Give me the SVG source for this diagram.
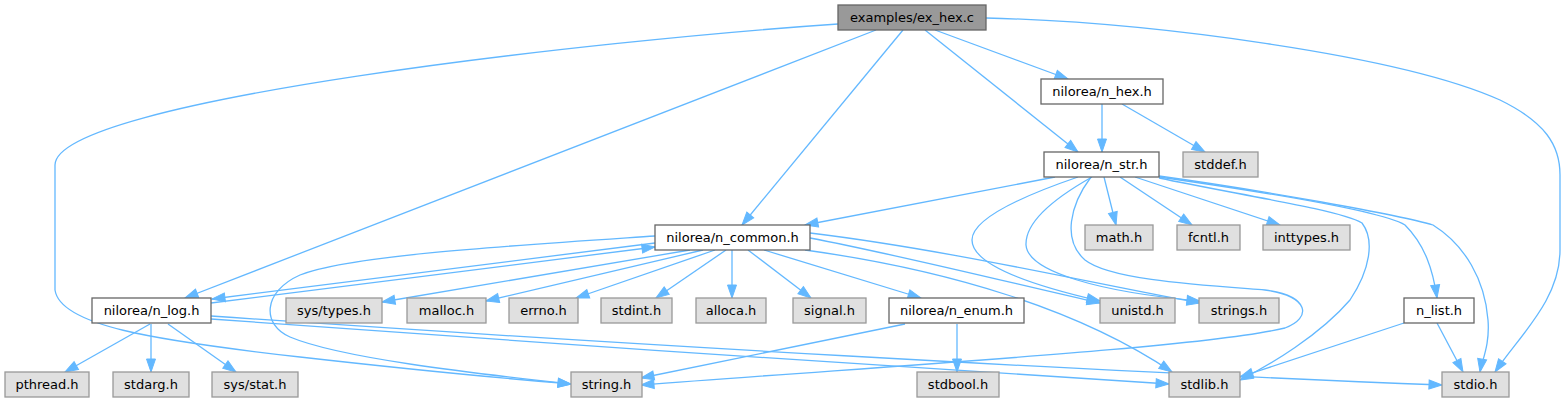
<svg xmlns="http://www.w3.org/2000/svg" width="1567" height="403" viewBox="0 0 1567 403">
<style>
.e{fill:none;stroke:#63b8ff;stroke-width:1.3;marker-end:url(#a)}
.n rect{fill:#ffffff;stroke:#666666;stroke-width:1.3}
.g rect{fill:#e0e0e0;stroke:#999999;stroke-width:1.3}
.m rect{fill:#999999;stroke:#666666;stroke-width:1.3}
text{font-family:"DejaVu Sans","Liberation Sans",sans-serif;font-size:13px;text-anchor:middle;fill:#000000}
</style>
<defs>
<marker id="a" markerUnits="userSpaceOnUse" markerWidth="14" markerHeight="10" refX="13" refY="4.5" orient="auto" overflow="visible">
<path d="M0,0 L13,4.5 L0,9 Z" fill="#63b8ff" stroke="#63b8ff" stroke-width="1"/>
</marker>
</defs>
<rect width="1567" height="403" fill="#ffffff"/>
<g id="connectors">
<path class="e" d="M903,30 L742,225"/>
<path class="e" d="M876,30 L185,298"/>
<path class="e" d="M838,24 C600,40 55,100 55,165 L55,290 C60,325 150,340 300,357 S500,378 571,384"/>
<path class="e" d="M935,30 L1068,79"/>
<path class="e" d="M925,30 L1078,152"/>
<path class="e" d="M986,18 C1150,22 1400,55 1500,100 C1545,122 1560,145 1560,175 L1560,250 C1560,300 1520,335 1495,372"/>
<path class="e" d="M1102,104 L1102,152"/>
<path class="e" d="M1122,104 L1205,152"/>
<path class="e" d="M1055,177 L805,225"/>
<path class="e" d="M1104,177 L1116,225"/>
<path class="e" d="M1120,177 L1192,225"/>
<path class="e" d="M1135,177 L1280,225"/>
<path class="e" d="M1159,177 C1250,190 1380,210 1405,225 C1425,245 1433,270 1437,298"/>
<path class="e" d="M1159,176 C1260,190 1400,215 1433,225 C1465,245 1485,280 1488,320 C1490,345 1482,360 1480,372"/>
<path class="e" d="M1159,178 C1240,195 1340,210 1362,223 C1375,240 1370,270 1350,300 C1320,335 1270,365 1240,380"/>
<path class="e" d="M1078,177 C1040,190 972,215 972,240 C972,265 1030,285 1100,301"/>
<path class="e" d="M1092,177 C1060,195 1025,220 1026,245 C1028,272 1100,292 1200,301"/>
<path class="e" d="M1091,177 C1070,205 1062,240 1085,260 C1110,280 1200,285 1265,290 C1310,296 1312,318 1285,328 C1200,348 900,365 641,385"/>
<path class="e" d="M690,250 L382,302"/>
<path class="e" d="M703,250 L486,301"/>
<path class="e" d="M715,250 L576,298"/>
<path class="e" d="M726,250 L656,298"/>
<path class="e" d="M732,250 L732,298"/>
<path class="e" d="M748,250 L811,298"/>
<path class="e" d="M764,250 L921,298"/>
<path class="e" d="M810,238 C900,255 1040,290 1100,303"/>
<path class="e" d="M810,233 C950,250 1100,285 1200,303"/>
<path class="e" d="M805,250 C950,270 1080,310 1172,372"/>
<path class="e" d="M655,243 L212,299"/>
<path class="e" d="M655,236 C520,245 350,255 300,275 C262,292 262,325 290,337 C340,358 470,373 571,384"/>
<path class="e" d="M211,303 L655,247"/>
<path class="e" d="M150,324 L65,372"/>
<path class="e" d="M151,324 L151,372"/>
<path class="e" d="M168,324 L236,372"/>
<path class="e" d="M211,319 C500,340 900,368 1169,384"/>
<path class="e" d="M211,316 C600,343 1100,372 1442,385"/>
<path class="e" d="M905,324 L641,378"/>
<path class="e" d="M957,324 L957,372"/>
<path class="e" d="M1404,323 L1240,377"/>
<path class="e" d="M1437,323 L1463,372"/>
</g>
<g id="ex_hex" class="m"><rect x="838" y="5" width="148" height="25"/><text x="912" y="22">examples/ex_hex.c</text></g>
<g id="n_hex" class="n"><rect x="1041" y="79" width="122" height="25"/><text x="1102" y="96">nilorea/n_hex.h</text></g>
<g id="n_str" class="n"><rect x="1044" y="152" width="115" height="25"/><text x="1101.5" y="169">nilorea/n_str.h</text></g>
<g id="stddef" class="g"><rect x="1183" y="152" width="75" height="25"/><text x="1220.5" y="169">stddef.h</text></g>
<g id="n_common" class="n"><rect x="655" y="225" width="155" height="25"/><text x="732.5" y="242">nilorea/n_common.h</text></g>
<g id="math" class="g"><rect x="1085" y="225" width="68" height="25"/><text x="1119" y="242">math.h</text></g>
<g id="fcntl" class="g"><rect x="1177" y="225" width="63" height="25"/><text x="1208.5" y="242">fcntl.h</text></g>
<g id="inttypes" class="g"><rect x="1263" y="225" width="87" height="25"/><text x="1306.5" y="242">inttypes.h</text></g>
<g id="n_log" class="n"><rect x="92" y="298" width="119" height="25"/><text x="151.5" y="315">nilorea/n_log.h</text></g>
<g id="sys_types" class="g"><rect x="286" y="298" width="96" height="25"/><text x="334" y="315">sys/types.h</text></g>
<g id="malloc" class="g"><rect x="407" y="298" width="79" height="25"/><text x="446.5" y="315">malloc.h</text></g>
<g id="errno" class="g"><rect x="509" y="298" width="69" height="25"/><text x="543.5" y="315">errno.h</text></g>
<g id="stdint" class="g"><rect x="601" y="298" width="71" height="25"/><text x="636.5" y="315">stdint.h</text></g>
<g id="alloca" class="g"><rect x="696" y="298" width="70" height="25"/><text x="731" y="315">alloca.h</text></g>
<g id="signal" class="g"><rect x="793" y="298" width="73" height="25"/><text x="829.5" y="315">signal.h</text></g>
<g id="n_enum" class="n"><rect x="889" y="298" width="135" height="25"/><text x="956.5" y="315">nilorea/n_enum.h</text></g>
<g id="unistd" class="g"><rect x="1100" y="298" width="75" height="25"/><text x="1137.5" y="315">unistd.h</text></g>
<g id="strings" class="g"><rect x="1199" y="298" width="80" height="25"/><text x="1239" y="315">strings.h</text></g>
<g id="n_list" class="n"><rect x="1404" y="298" width="70" height="25"/><text x="1439" y="315">n_list.h</text></g>
<g id="pthread" class="g"><rect x="5" y="372" width="84" height="25"/><text x="47" y="389">pthread.h</text></g>
<g id="stdarg" class="g"><rect x="113" y="372" width="76" height="25"/><text x="151" y="389">stdarg.h</text></g>
<g id="sys_stat" class="g"><rect x="212" y="372" width="86" height="25"/><text x="255" y="389">sys/stat.h</text></g>
<g id="string" class="g"><rect x="571" y="372" width="71" height="25"/><text x="606.5" y="389">string.h</text></g>
<g id="stdbool" class="g"><rect x="917" y="372" width="82" height="25"/><text x="958" y="389">stdbool.h</text></g>
<g id="stdlib" class="g"><rect x="1169" y="372" width="71" height="25"/><text x="1204.5" y="389">stdlib.h</text></g>
<g id="stdio" class="g"><rect x="1442" y="372" width="67" height="25"/><text x="1475.5" y="389">stdio.h</text></g>
</svg>
